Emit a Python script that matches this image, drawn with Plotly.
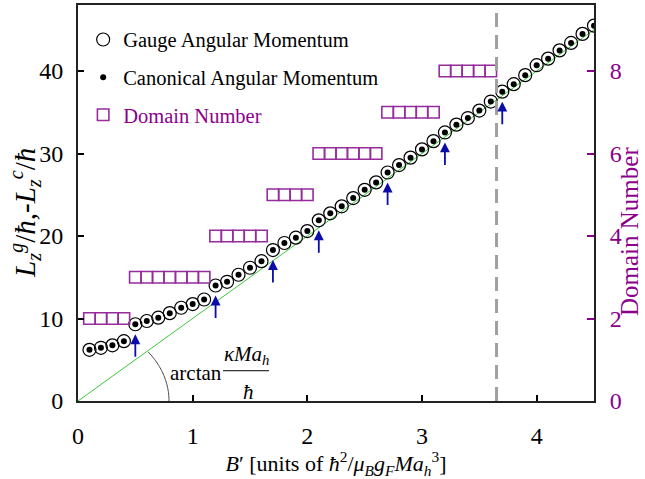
import numpy as np
import plotly.graph_objects as go

# ---------------- data ----------------
B_field = [0.1, 0.2, 0.3, 0.4, 0.5, 0.6, 0.7, 0.8, 0.9, 1.0,
           1.1, 1.2, 1.3, 1.4, 1.5, 1.6, 1.7, 1.8, 1.9, 2.0,
           2.1, 2.2, 2.3, 2.4, 2.5, 2.6, 2.7, 2.8, 2.9, 3.0,
           3.1, 3.2, 3.3, 3.4, 3.5, 3.6, 3.7, 3.8, 3.9, 4.0,
           4.1, 4.2, 4.3, 4.4, 4.5]
gauge_L = [6.2, 6.45, 6.75, 7.25, 9.3, 9.7, 10.1, 10.65, 11.3, 11.75,
           12.3, 14.0, 14.45, 15.3, 16.15, 16.95, 18.3, 19.15, 19.8, 20.6,
           21.9, 22.75, 23.6, 24.6, 25.6, 26.5, 27.7, 28.6, 29.5, 30.5,
           31.5, 32.55, 33.5, 34.3, 35.2, 36.3, 37.5, 38.4, 39.5, 40.7,
           41.5, 42.5, 43.4, 44.5, 45.5]
canonical_L = [6.2, 6.45, 6.75, 7.25, 9.3, 9.7, 10.1, 10.65, 11.3, 11.75,
               12.3, 14.0, 14.45, 15.3, 16.15, 16.95, 18.3, 19.15, 19.8, 20.6,
               21.9, 22.75, 23.6, 24.6, 25.6, 26.5, 27.7, 28.6, 29.5, 30.5,
               31.5, 32.55, 33.5, 34.3, 35.2, 36.3, 37.5, 38.4, 39.5, 40.7,
               41.5, 42.5, 43.4, 44.5, 45.5]
domain_B = [0.1, 0.2, 0.3, 0.4, 0.5, 0.6, 0.7, 0.8, 0.9, 1.0,
            1.1, 1.2, 1.3, 1.4, 1.5, 1.6, 1.7, 1.8, 1.9, 2.0,
            2.1, 2.2, 2.3, 2.4, 2.5, 2.6, 2.7, 2.8, 2.9, 3.0,
            3.1, 3.2, 3.3, 3.4, 3.5, 3.6]
domain_number = [2, 2, 2, 2, 3, 3, 3, 3, 3, 3,
                 3, 4, 4, 4, 4, 4, 5, 5, 5, 5,
                 6, 6, 6, 6, 6, 6, 7, 7, 7, 7,
                 7, 8, 8, 8, 8, 8]
slope_B = [0.0, 4.5]
slope_L = [0.0, 45.0]
arrow_B = [0.5, 1.2, 1.7, 2.1, 2.7, 3.2, 3.7]
critical_B = 3.65
x_ticks = [0, 1, 2, 3, 4]
y_ticks = [0, 10, 20, 30, 40]
y2_ticks = [0, 2, 4, 6, 8]

# ---------------- style ----------------
FONT = "Liberation Serif, Times New Roman, serif"
PURPLE = "#8b008b"
SQ = "#962c9c"
BLUE = "#0c0ca8"
W, H = 645, 479
ML, MR, MT, MB = 78, 51, 5, 78
XR = [0, 4.5]
YR = [0, 48]
Y2R = [0, 9.6]
pw = W - ML - MR
ph = H - MT - MB
px_per_x = pw / (XR[1] - XR[0])
px_per_y = ph / (YR[1] - YR[0])

fig = go.Figure()

fig.add_trace(go.Scatter(x=slope_B, y=slope_L, mode="lines",
                         line=dict(color="#3cc83c", width=1),
                         showlegend=False, hoverinfo="skip"))

fig.add_trace(go.Scatter(x=B_field, y=gauge_L, mode="markers",
                         name="Gauge Angular Momentum", legendgroup="g1",
                         legendrank=1,
                         marker=dict(symbol="circle-open", size=13,
                                     color="black", line=dict(width=1.2))))
fig.add_trace(go.Scatter(x=B_field, y=canonical_L, mode="markers",
                         name="Canonical Angular Momentum", legendgroup="g2",
                         legendrank=2,
                         marker=dict(symbol="circle", size=6, color="black")))
fig.add_trace(go.Scatter(x=domain_B, y=domain_number, mode="markers",
                         yaxis="y2",
                         name=f"<span style='color:{PURPLE}'>Domain Number</span>",
                         legendgroup="g3", legendrank=3,
                         marker=dict(symbol="square-open", size=11.5,
                                     color=SQ, line=dict(width=1.6, color=SQ))))

# arrows under the domain transitions
for xb in arrow_B:
    yv = gauge_L[B_field.index(xb)]
    fig.add_annotation(x=xb, y=yv - 10 / px_per_y, ax=0, ay=24,
                       xref="x", yref="y", text="", showarrow=True,
                       arrowhead=2, arrowsize=1.1, arrowwidth=1.8,
                       arrowcolor=BLUE, standoff=0)

# dashed vertical line
fig.add_shape(type="line", x0=critical_B, x1=critical_B, y0=0, y1=1,
              xref="x", yref="paper",
              line=dict(color="#a0a0a0", width=3, dash="14px,8px"))

# angle arc
t = np.linspace(0, np.deg2rad(39.7), 40)
ax_px, by_px = 91, 77
xs = ax_px * np.cos(t) / px_per_x
ys = by_px * np.sin(t) / px_per_y
path = "M " + " L ".join(f"{a:.4f},{b:.4f}" for a, b in zip(xs, ys))
fig.add_shape(type="path", path=path, xref="x", yref="y",
              line=dict(color="#444", width=1))

# arctan label
fig.add_annotation(x=1.03, y=3.43, xref="x", yref="y", text="arctan",
                   showarrow=False, font=dict(family=FONT, size=21, color="black"))
fig.add_annotation(x=1.47, y=5.6, xref="x", yref="y",
                   text="<i>κMa</i><sub><i>h</i></sub>",
                   showarrow=False, font=dict(family=FONT, size=21, color="black"))
fig.add_shape(type="line", x0=1.265, x1=1.665, y0=3.67, y1=3.67,
              xref="x", yref="y", line=dict(color="black", width=1))
fig.add_annotation(x=1.49, y=1.13, xref="x", yref="y", text="<i>ħ</i>",
                   showarrow=False, font=dict(family=FONT, size=21, color="black"))

# axis titles (placed as rotated annotations for exact position)
fig.add_annotation(x=(25 - ML) / pw, y=(H - MB - 213) / ph,
                   xref="paper", yref="paper", textangle=-90,
                   xanchor="center", yanchor="middle", showarrow=False,
                   text="<i>L</i><sub><i>z</i></sub><sup><i>g</i></sup>/<i>ħ</i>,"
                        "-<i>L</i><sub><i>z</i></sub><sup><i>c</i></sup>/<i>ħ</i>",
                   font=dict(family=FONT, size=29, color="black"))
fig.add_annotation(x=(629 - ML) / pw, y=(H - MB - 232) / ph,
                   xref="paper", yref="paper", textangle=-90,
                   xanchor="center", yanchor="middle", showarrow=False,
                   text="Domain Number", borderpad=0,
                   font=dict(family=FONT, size=25, color=PURPLE))

fig.update_layout(
    width=W, height=H,
    margin=dict(l=ML, r=MR, t=MT, b=MB, autoexpand=False),
    paper_bgcolor="white", plot_bgcolor="white",
    font=dict(family=FONT, size=22, color="black"),
    showlegend=True,
    legend=dict(x=0.01, y=0.963, xanchor="left", yanchor="top",
                font=dict(family=FONT, size=20.5, color="black"),
                bgcolor="rgba(0,0,0,0)", tracegroupgap=8,
                traceorder="grouped"),
    xaxis=dict(range=XR, tickvals=x_ticks, ticks="inside", ticklen=6,
               tickwidth=1.5, tickcolor="black", showline=True, linewidth=2,
               linecolor="#222", mirror=True, showgrid=False, zeroline=False,
               automargin=False,
               tickfont=dict(size=24), ticklabelstandoff=12,
               title=dict(text="<i>B</i>′ [units of <i>ħ</i><sup>2</sup>/<i>μ</i><sub><i>B</i></sub>"
                               "<i>g</i><sub><i>F</i></sub><i>Ma</i><sub><i>h</i></sub><sup>3</sup>]",
                          font=dict(size=22), standoff=1)),
    yaxis=dict(range=YR, tickvals=y_ticks, ticks="inside", ticklen=6,
               tickwidth=1.5, tickcolor="black", showline=True, linewidth=2,
               linecolor="#222", showgrid=False, zeroline=False,
               automargin=False,
               tickfont=dict(size=24), ticklabelstandoff=8),
    yaxis2=dict(range=Y2R, tickvals=y2_ticks, overlaying="y", side="right",
                ticks="inside", ticklen=7, tickwidth=2, tickcolor=PURPLE,
                showline=True, linewidth=2, linecolor="#222",
                showgrid=False, zeroline=False, ticklabelstandoff=9,
                automargin=False,
                tickfont=dict(size=24, color=PURPLE)),
)

fig.write_html("out.html")
